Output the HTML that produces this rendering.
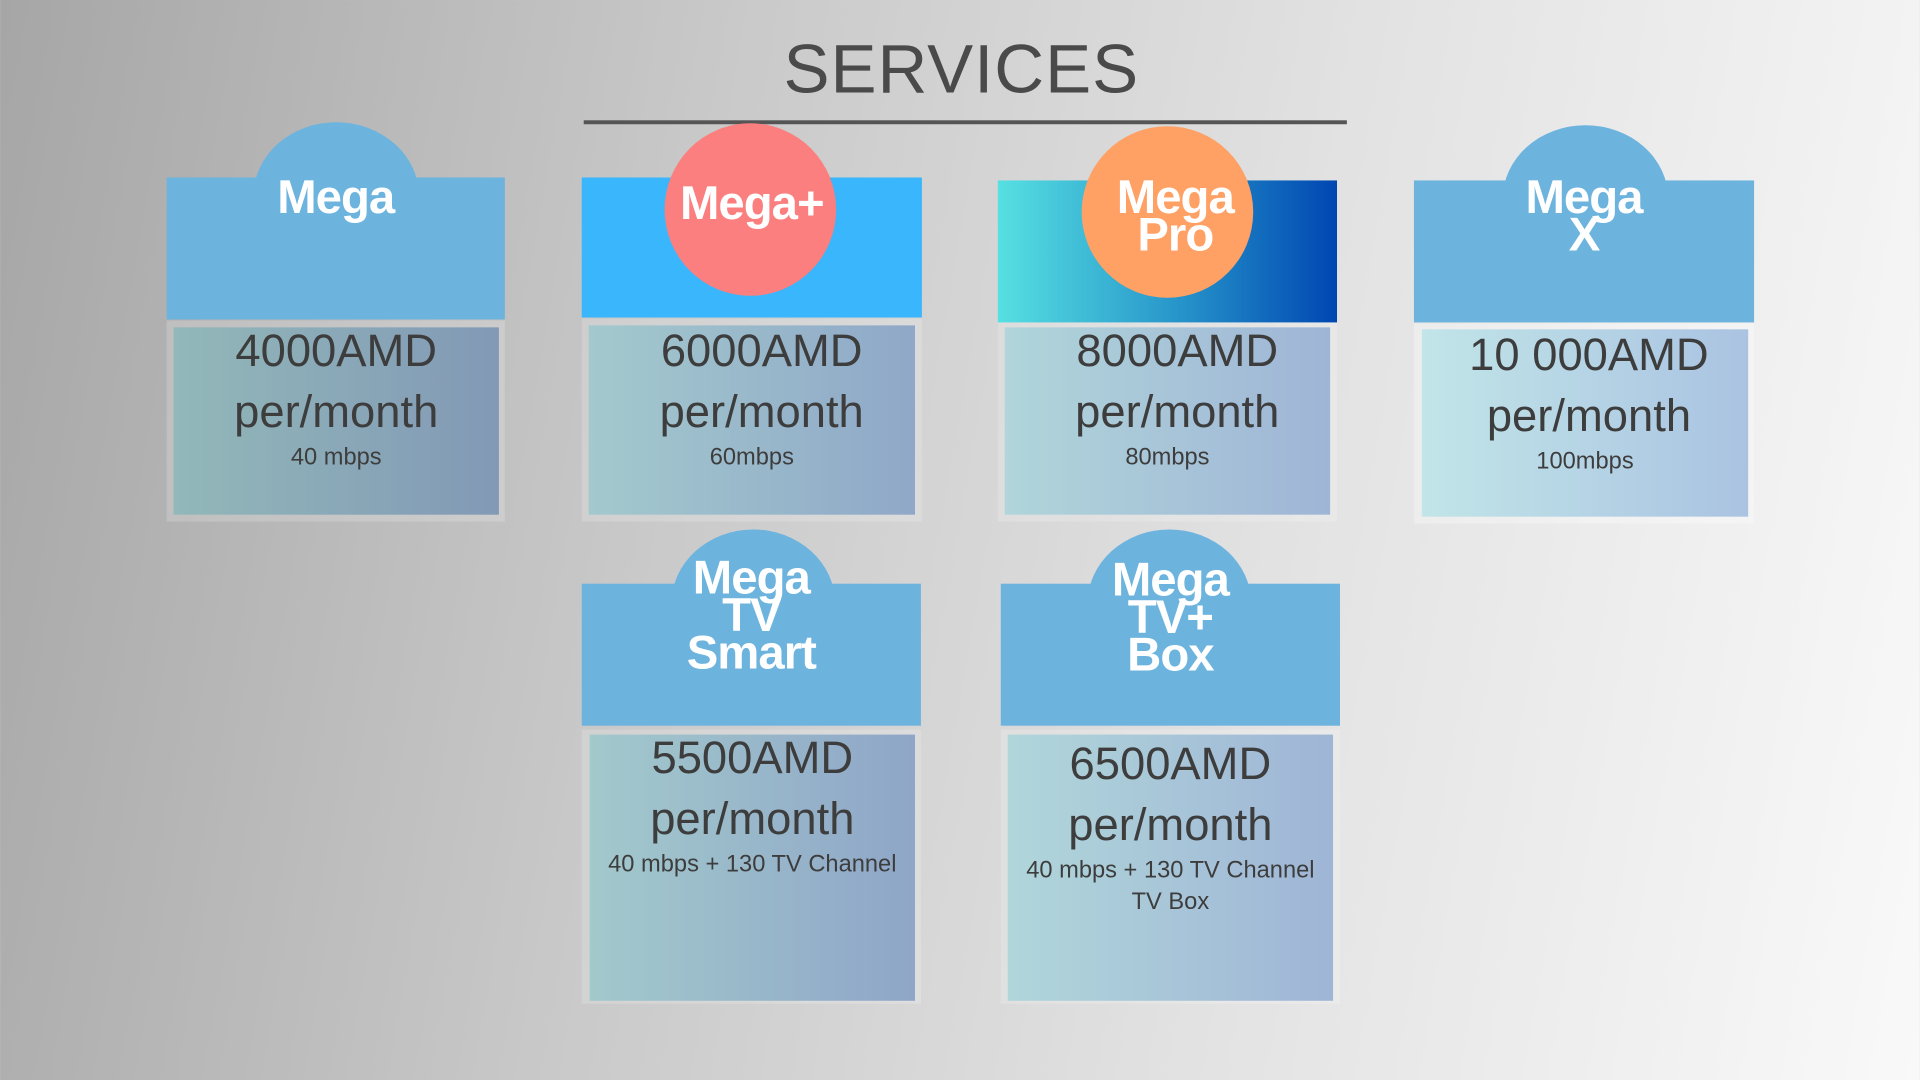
<!DOCTYPE html>
<html><head><meta charset="utf-8"><style>
body{margin:0;width:1920px;height:1080px;overflow:hidden;position:relative;background:linear-gradient(100deg,#a6a6a6 0%,#c9c9c9 35%,#e2e2e2 65%,#f9f9f9 100%);font-family:"Liberation Sans",sans-serif}
#w{position:absolute;left:0;top:0;width:1920px;height:1080px;transform:scale(0.986);transform-origin:0 0}
.a{position:absolute}
.title{left:0;width:1950px;top:30px;text-align:center;font-size:70px;color:#4a4a4a;letter-spacing:1px}
.line{left:592px;top:122px;width:774px;height:4px;background:#555}
.hd{position:absolute;background:#6cb3de}
.dome{position:absolute;border-radius:50%;background:#6cb3de}
.lbl{position:absolute;color:#fff;font-weight:bold;font-size:48px;line-height:38px;text-align:center;letter-spacing:-1px}
.frame{position:absolute;background:rgba(255,255,255,0.18)}
.pn{position:absolute;text-align:center;color:#3d3d3d}
.big{font-size:46px;line-height:62px}
.sm{font-size:24px;line-height:32px}
</style></head><body><div id="w">
<div class="a title">SERVICES</div>
<div class="a line"></div>

<div class="dome" style="left:257px;top:124px;width:168px;height:150px"></div>
<div class="hd" style="left:169px;top:180px;width:343px;height:144px"></div>
<div class="lbl" style="left:169px;width:343px;top:182px">Mega</div>
<div class="frame" style="left:169px;top:325px;width:343px;height:204px"></div>
<div class="pn" style="left:176px;top:332px;width:330px;height:190px;background:linear-gradient(90deg,#92b8b9,#8299b6)"><div class="big" style="margin-top:-8px">4000AMD<br>per/month</div><div class="sm">40 mbps</div></div>

<div class="hd" style="left:590px;top:180px;width:345px;height:142px;background:#3ab6fd"></div>
<div class="dome" style="left:674px;top:125px;width:174px;height:175px;background:#fa7f7e"></div>
<div class="lbl" style="left:590px;width:345px;top:188px">Mega+</div>
<div class="frame" style="left:590px;top:323px;width:345px;height:206px"></div>
<div class="pn" style="left:597px;top:330px;width:331px;height:192px;background:linear-gradient(90deg,#a3c9cd,#8fa8c8)"><div class="big" style="margin-top:-6px;padding-left:20px">6000AMD<br>per/month</div><div class="sm">60mbps</div></div>

<div class="hd" style="left:1012px;top:183px;width:344px;height:144px;background:linear-gradient(90deg,#56e0e2 0%,#2592c9 55%,#0046b2 100%)"></div>
<div class="dome" style="left:1097px;top:128px;width:174px;height:174px;background:#ffa064"></div>
<div class="lbl" style="left:1012px;width:360px;top:182px">Mega<br>Pro</div>
<div class="frame" style="left:1012px;top:327px;width:344px;height:202px"></div>
<div class="pn" style="left:1019px;top:332px;width:330px;height:190px;background:linear-gradient(90deg,#b0d5da,#9fb5d6)"><div class="big" style="margin-top:-8px;padding-left:20px">8000AMD<br>per/month</div><div class="sm">80mbps</div></div>

<div class="dome" style="left:1524px;top:127px;width:168px;height:150px"></div>
<div class="hd" style="left:1434px;top:183px;width:345px;height:144px"></div>
<div class="lbl" style="left:1434px;width:345px;top:182px">Mega<br>X</div>
<div class="frame" style="left:1434px;top:328px;width:345px;height:203px;background:rgba(255,255,255,0.3)"></div>
<div class="pn" style="left:1442px;top:334px;width:331px;height:190px;background:linear-gradient(90deg,#c1e5e8,#aac3e2)"><div class="big" style="margin-top:-6px;padding-left:8px">10 000AMD<br>per/month</div><div class="sm">100mbps</div></div>

<div class="dome" style="left:681px;top:537px;width:166px;height:150px"></div>
<div class="hd" style="left:590px;top:592px;width:344px;height:144px"></div>
<div class="lbl" style="left:590px;width:344px;top:568px">Mega<br>TV<br>Smart</div>
<div class="frame" style="left:590px;top:740px;width:344px;height:278px"></div>
<div class="pn" style="left:598px;top:745px;width:330px;height:270px;background:linear-gradient(90deg,#a2c9cc,#8fa6c8)"><div class="big" style="margin-top:-8px">5500AMD<br>per/month</div><div class="sm">40 mbps + 130 TV Channel</div></div>

<div class="dome" style="left:1103px;top:537px;width:166px;height:150px"></div>
<div class="hd" style="left:1015px;top:592px;width:344px;height:144px"></div>
<div class="lbl" style="left:1015px;width:344px;top:570px">Mega<br>TV+<br>Box</div>
<div class="frame" style="left:1015px;top:740px;width:344px;height:278px"></div>
<div class="pn" style="left:1022px;top:745px;width:330px;height:270px;background:linear-gradient(90deg,#b0d6da,#9fb5d6)"><div class="big" style="margin-top:-2px">6500AMD<br>per/month</div><div class="sm">40 mbps + 130 TV Channel<br>TV Box</div></div>
</div></body></html>
